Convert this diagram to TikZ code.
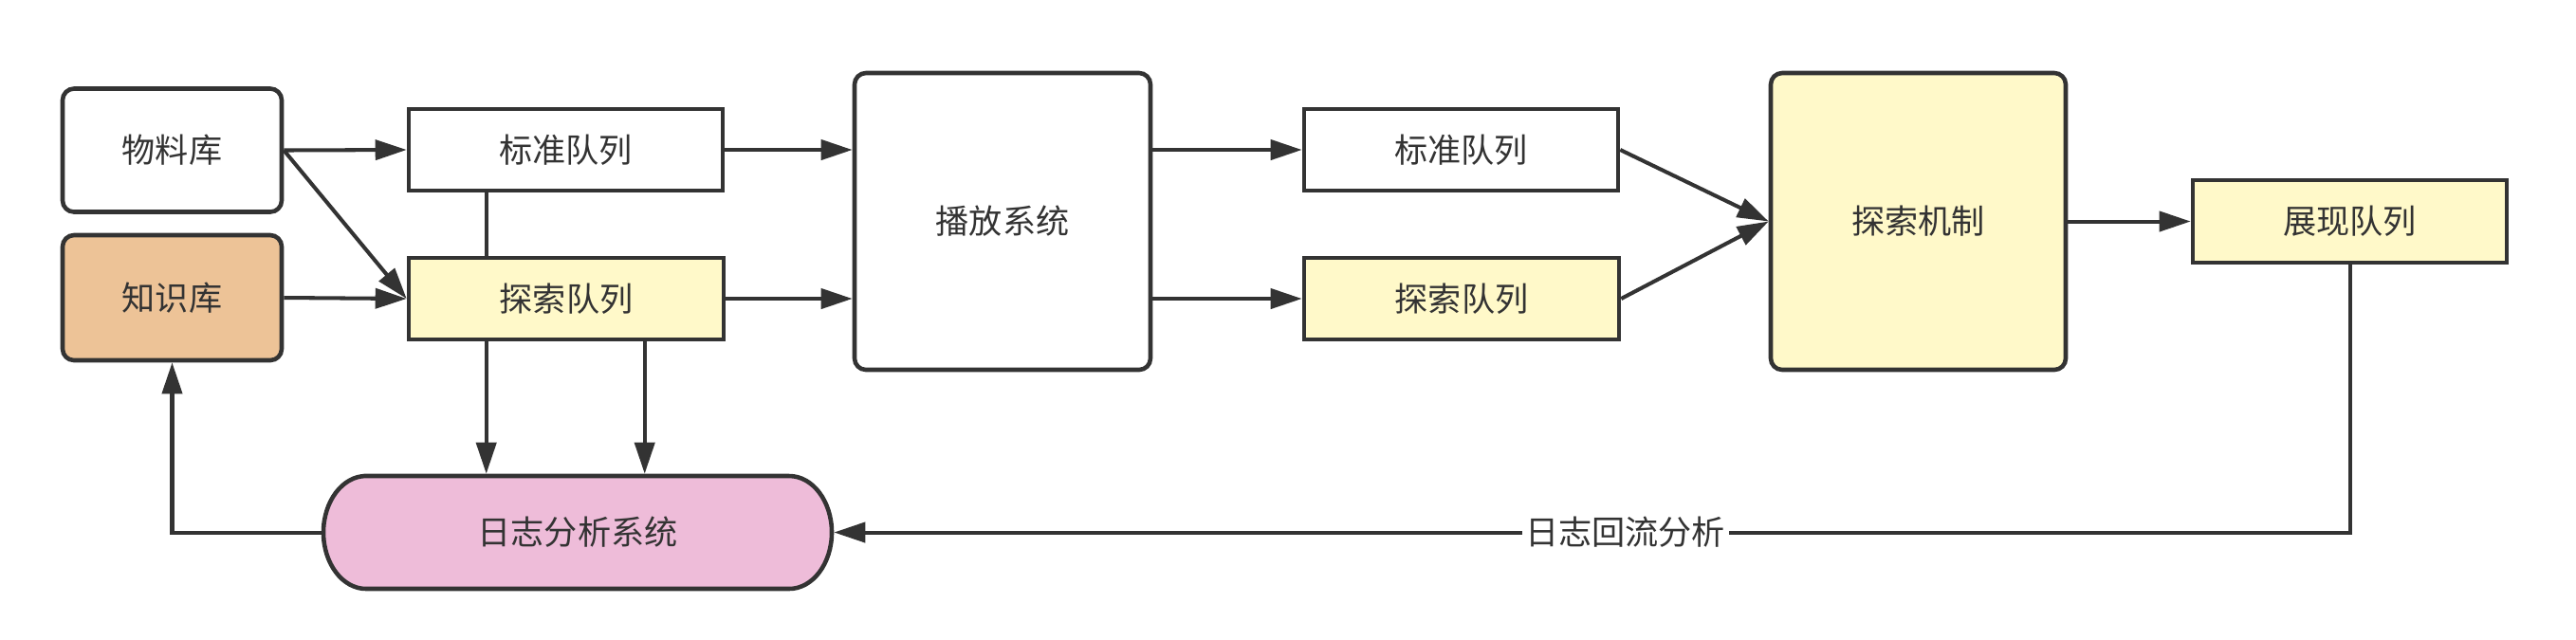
\documentclass[tikz,border=0pt]{standalone}
\usepackage{fontspec}
\setmainfont{Noto Sans CJK SC}
\usepackage{tikz}
\usetikzlibrary{arrows.meta,calc}
\definecolor{linegray}{HTML}{333333}
\definecolor{zskfill}{HTML}{EDC397}
\definecolor{tsfill}{HTML}{FFF9C9}
\definecolor{rzfill}{HTML}{EEBCD9}

\begin{document}
\begin{tikzpicture}[
  box/.style={draw=linegray, line width=1.3pt, text=linegray, font=\fontsize{10}{12}\selectfont, inner sep=0pt},
  rbox/.style={box, rounded corners=1.2mm},
  arr/.style={draw=linegray, line width=1.15pt, -{Triangle[length=3.3mm,width=2.1mm]}},
  ln/.style={draw=linegray, line width=1.15pt}
]
\useasboundingbox (0,0) rectangle (27.16,-6.74);
\node[rbox, minimum width=2.31cm, minimum height=1.30cm] (wlk) at (1.815,-1.585) {物料库};
\node[rbox, fill=zskfill, minimum width=2.31cm, minimum height=1.32cm] (zsk) at (1.815,-3.14) {知识库};
\node[box, minimum width=3.31cm, minimum height=0.86cm] (bzl) at (5.965,-1.58) {标准队列};
\node[box, fill=tsfill, minimum width=3.32cm, minimum height=0.86cm] (tsl) at (5.97,-3.15) {探索队列};
\node[rbox, minimum width=3.12cm, minimum height=3.13cm] (bf) at (10.57,-2.335) {播放系统};
\node[box, minimum width=3.31cm, minimum height=0.86cm] (bzr) at (15.405,-1.58) {标准队列};
\node[box, fill=tsfill, minimum width=3.32cm, minimum height=0.86cm] (tsr) at (15.41,-3.15) {探索队列};
\node[rbox, fill=tsfill, minimum width=3.11cm, minimum height=3.13cm] (tsjz) at (20.225,-2.335) {探索机制};
\node[box, fill=tsfill, minimum width=3.31cm, minimum height=0.87cm] (zxl) at (24.775,-2.335) {展现队列};
\draw[ln, line width=1.3pt, fill=rzfill] (3.86,-5.02) -- (8.32,-5.02) arc[start angle=90, end angle=-90, x radius=0.45, y radius=0.595]
  -- (3.86,-6.21) arc[start angle=270, end angle=90, x radius=0.45, y radius=0.595] -- cycle;
\node[box, draw=none, minimum width=5.36cm, minimum height=1.19cm] (rz) at (6.09,-5.615) {日志分析系统};

\draw[arr] (wlk.east) -- (bzl.west);
\draw[arr] (wlk.east) -- (tsl.west);
\draw[arr] (zsk.east) -- (tsl.west);
\draw[arr] (bzl.east) -- (bf.west |- bzl.east);
\draw[arr] (tsl.east) -- (bf.west |- tsl.east);
\draw[arr] (bf.east |- bzr.west) -- (bzr.west);
\draw[arr] (bf.east |- tsr.west) -- (tsr.west);
\draw[arr] (bzr.east) -- (tsjz.west);
\draw[arr] (tsr.east) -- (tsjz.west);
\draw[arr] (tsjz.east) -- (zxl.west);

\coordinate (a0) at ($(bzl.south west)+(0.84,0)$);
\coordinate (a1) at ($(tsl.south west)+(0.84,0)$);
\coordinate (a2) at ($(tsl.south west)+(2.51,0)$);
\draw[ln] (a0) -- (a0 |- tsl.north);
\draw[arr] (a1) -- (a1 |- rz.north);
\draw[arr] (a2) -- (a2 |- rz.north);

\coordinate (fb) at (zxl.south |- rz.east);
\draw[arr] (zxl.south) -- (fb) -- node[pos=0.478, fill=white, text=linegray, font=\fontsize{10}{12}\selectfont, inner sep=1pt] {日志回流分析} (rz.east);
\draw[arr] (rz.west) -| (zsk.south);
\end{tikzpicture}
\end{document}
